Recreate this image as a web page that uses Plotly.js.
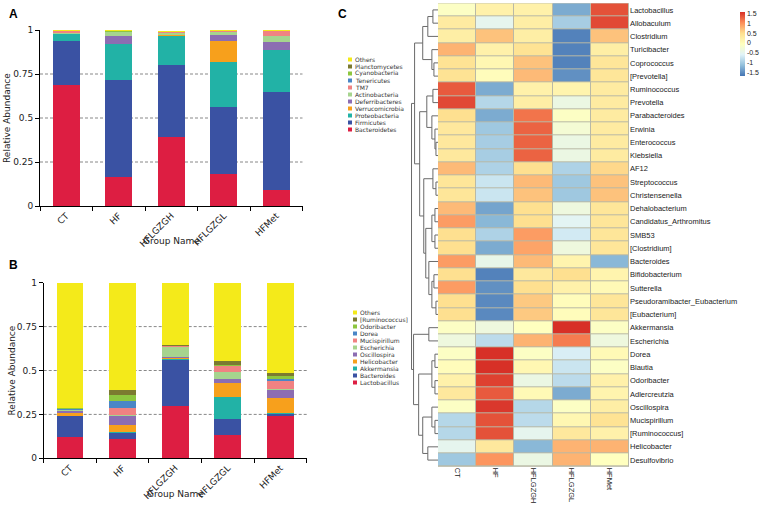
<!DOCTYPE html>
<html><head><meta charset="utf-8">
<script src="https://cdn.plot.ly/plotly-3.0.1.min.js"></script>
<style>html,body{margin:0;padding:0;background:#fff}#chart{width:767px;height:507px}</style>
</head><body><div id="chart"></div>
<script>
// ---------------- DATA ----------------
const groups = ['CT', 'HF', 'HFLGZGH', 'HFLGZGL', 'HFMet'];

// Panel A: phylum relative abundance (stack order bottom -> top)
const phylumNames = ['Bacteroidetes','Firmicutes','Proteobacteria','Verrucomicrobia','Deferribacteres','Actinobacteria','TM7','Tenericutes','Cyanobacteria','Planctomycetes','Others'];
const bacteroidetes   = [0.690, 0.165, 0.390, 0.180, 0.090];
const firmicutes      = [0.250, 0.550, 0.410, 0.385, 0.555];
const proteobacteria  = [0.035, 0.205, 0.167, 0.255, 0.240];
const verrucomicrobia = [0.003, 0.002, 0.004, 0.120, 0.002];
const deferribacteres = [0.002, 0.045, 0.002, 0.030, 0.045];
const actinobacteria  = [0.005, 0.020, 0.012, 0.020, 0.035];
const tm7             = [0.008, 0.003, 0.001, 0.003, 0.025];
const tenericutes     = [0.001, 0.001, 0.001, 0.001, 0.001];
const cyanobacteria   = [0.001, 0.002, 0.003, 0.002, 0.001];
const planctomycetes  = [0.001, 0.001, 0.001, 0.001, 0.001];
const othersA         = [0.004, 0.006, 0.006, 0.003, 0.005];

// Panel B: genus relative abundance (stack order bottom -> top)
const genusNames = ['Lactobacillus','Bacteroides','Akkermansia','Helicobacter','Oscillospira','Escherichia','Mucispirillum','Dorea','Odoribacter','[Ruminococcus]','Others'];
const lactobacillusB = [0.120, 0.108, 0.300, 0.130, 0.243];
const bacteroidesB   = [0.120, 0.038, 0.262, 0.095, 0.011];
const akkermansiaB   = [0.002, 0.002, 0.003, 0.125, 0.002];
const helicobacterB  = [0.015, 0.042, 0.008, 0.077, 0.090];
const oscillospiraB  = [0.013, 0.050, 0.002, 0.027, 0.045];
const escherichiaB   = [0.005, 0.008, 0.060, 0.040, 0.002];
const mucispirillumB = [0.002, 0.040, 0.002, 0.030, 0.050];
const doreaB         = [0.002, 0.038, 0.002, 0.003, 0.007];
const odoribacterB   = [0.005, 0.034, 0.003, 0.003, 0.020];
const ruminococcusB  = [0.004, 0.030, 0.005, 0.024, 0.018];
const othersB        = [0.712, 0.610, 0.353, 0.446, 0.512];

// Panel C: heatmap (rows top -> bottom), z-scores per group
const heatGenera = ['Lactobacillus','Allobaculum','Clostridium','Turicibacter','Coprococcus','[Prevotella]','Ruminococcus','Prevotella','Parabacteroides','Erwinia','Enterococcus','Klebsiella','AF12','Streptococcus','Christensenella','Dehalobacterium','Candidatus_Arthromitus','SMB53','[Clostridium]','Bacteroides','Bifidobacterium','Sutterella','Pseudoramibacter_Eubacterium','[Eubacterium]','Akkermansia','Escherichia','Dorea','Blautia','Odoribacter','Adlercreutzia','Oscillospira','Mucispirillum','[Ruminococcus]','Helicobacter','Desulfovibrio'];
const heatZ = [
  [-0.1, 0.2, 0.2, -1.3, 1.4],
  [0.3, -0.5, 0.25, -1.0, 1.45],
  [0.25, 0.7, 0.25, -1.6, 0.7],
  [0.8, 0.2, 0.45, -1.6, 0.25],
  [0.45, 0.1, 0.7, -1.6, 0.4],
  [0.45, 0.0, 0.75, -1.5, 0.4],
  [1.35, -1.3, 0.2, 0.15, 0.3],
  [1.45, -0.9, 0.25, -0.4, 0.3],
  [0.5, -1.3, 1.2, -0.1, 0.3],
  [0.35, -1.05, 1.3, -0.25, 0.3],
  [0.35, -1.0, 1.3, -0.4, 0.3],
  [0.35, -1.0, 1.3, -0.4, 0.3],
  [0.75, -0.95, 0.5, -0.95, 0.55],
  [0.4, -0.75, 0.75, -1.05, 0.7],
  [0.4, -0.75, 0.7, -1.05, 0.7],
  [0.75, -1.35, 0.5, -0.35, 0.4],
  [0.95, -1.2, 0.5, -0.55, 0.4],
  [0.5, -0.95, 0.95, -0.7, 0.4],
  [0.5, -1.3, 0.9, -0.35, 0.4],
  [0.95, -0.45, 0.75, 0.15, -1.2],
  [0.5, -1.6, 0.35, 0.5, 0.15],
  [0.95, -1.5, 0.5, 0.2, 0.05],
  [0.5, -1.55, 0.65, 0.0, 0.4],
  [0.5, -1.55, 0.65, 0.0, 0.4],
  [-0.1, -0.35, -0.05, 1.6, -0.1],
  [-0.35, -0.85, 0.8, 1.15, -0.35],
  [-0.1, 1.6, -0.1, -0.65, 0.05],
  [0.0, 1.6, 0.1, -0.75, -0.1],
  [0.2, 1.5, -0.4, -0.85, 0.2],
  [0.35, 1.35, 0.05, -1.3, 0.15],
  [-0.1, 1.55, -0.9, -0.1, 0.25],
  [-0.9, 1.4, -0.85, 0.1, 0.45],
  [-0.9, 1.4, -0.5, 0.35, 0.2],
  [-0.5, 0.35, -1.2, 0.8, 0.8],
  [-1.05, 1.0, -0.4, 0.8, -0.05]
];
const colorbarTicks = [-1.5, -1, -0.5, 0, 0.5, 1, 1.5];

// Row dendrogram: [left, right, mergeHeight]; leaves are row indices
const rowTree = [
  [
    [[[0, 1, 5], 2, 10], [3, [4, 5, 4], 6], 15],
    [[[6, 7, 5], [8, [9, [10, 11, 2], 3], 6], 11],
     [[12, [13, 14, 2], 5], [[[15, 16, 3], [17, 18, 3], 6], [19, [[20, 21, 4], [22, 23, 2], 6], 9], 12], 14], 18],
    23],
  [[24, 25, 9],
   [[[26, 27, 3], [28, 29, 3], 6], [[30, [31, 32, 3], 6], [33, 34, 10], 15], 19],
   24],
  26];

// ---------------- STYLE ----------------
const stackColors = ['#DD1E42','#3A52A3','#22B2A6','#F7A01C','#8C6DB2','#A6D48E','#F08282','#4A86C6','#8DC63F','#7B7A30','#F4EA1A'];
const W = 767, H = 507;
const px = v => v / W, py = v => 1 - v / H;
const fontBar = 'DejaVu Sans', fontHeat = 'Liberation Sans';

const seriesA = [bacteroidetes, firmicutes, proteobacteria, verrucomicrobia, deferribacteres, actinobacteria, tm7, tenericutes, cyanobacteria, planctomycetes, othersA];
const seriesB = [lactobacillusB, bacteroidesB, akkermansiaB, helicobacterB, oscillospiraB, escherichiaB, mucispirillumB, doreaB, odoribacterB, ruminococcusB, othersB];

const traces = [];
seriesA.forEach((vals, i) => traces.push({
  type: 'bar', x: groups, y: vals, name: phylumNames[i], xaxis: 'x', yaxis: 'y',
  marker: {color: stackColors[i], line: {width: 0}}, showlegend: false, hoverinfo: 'name+y'
}));
seriesB.forEach((vals, i) => traces.push({
  type: 'bar', x: groups, y: vals, name: genusNames[i], xaxis: 'x2', yaxis: 'y2',
  marker: {color: stackColors[i], line: {width: 0}}, showlegend: false, hoverinfo: 'name+y'
}));

traces.push({
  type: 'heatmap', z: heatZ,
  x: groups.map((g, i) => i), y: heatGenera.map((g, i) => i),
  xaxis: 'x3', yaxis: 'y3', xgap: 1, ygap: 1,
  zmin: -1.7, zmax: 1.6,
  colorscale: [[0, '#4575B4'], [1/6, '#91BFDB'], [2/6, '#E0F3F8'], [3/6, '#FFFFBF'], [4/6, '#FEE090'], [5/6, '#FC8D59'], [1, '#D73027']],
  colorbar: {
    x: px(740), xanchor: 'left', xpad: 0, ypad: 0,
    y: py(12), yanchor: 'top', lenmode: 'pixels', len: 64, thickness: 5,
    outlinewidth: 0, tickvals: colorbarTicks, ticktext: colorbarTicks.map(String),
    ticks: '', tickfont: {family: fontHeat, size: 7, color: '#222'}
  }
});

// Dendrogram built from the tree
const dX = [], dY = [];
function walk(node) {
  if (typeof node === 'number') return {y: node, h: 0};
  const a = walk(node[0]), b = walk(node[1]), h = node[2];
  dX.push(a.h, h, h, b.h, null);
  dY.push(a.y, a.y, b.y, b.y, null);
  return {y: (a.y + b.y) / 2, h: h};
}
walk(rowTree);
traces.push({type: 'scatter', mode: 'lines', x: dX, y: dY, xaxis: 'x4', yaxis: 'y3',
  line: {color: '#6a6a6a', width: 1}, hoverinfo: 'skip', showlegend: false});

const barX = (d0, d1, ya) => ({
  domain: [px(d0), px(d1)], anchor: ya, type: 'category',
  showline: true, linecolor: '#000', linewidth: 1, ticks: 'outside', tickson: 'boundaries',
  ticklen: 4, tickcolor: '#000', tickangle: -45, showgrid: false, zeroline: false,
  tickfont: {family: fontBar, size: 9, color: '#222'}
});
const barY = (top, bottom, xa) => ({
  domain: [py(bottom), py(top)], anchor: xa, range: [0, 1],
  tickvals: [0, 0.25, 0.5, 0.75, 1], ticktext: ['0', '0.25', '0.5', '0.75', '1'],
  showline: true, linecolor: '#000', linewidth: 1, ticks: 'outside', ticklen: 4, tickcolor: '#000',
  showgrid: false, zeroline: false, tickfont: {family: fontBar, size: 9, color: '#222'}
});

const shapes = [];
const annotations = [];
[0.25, 0.5, 0.75].forEach(v => {
  shapes.push({type: 'line', xref: 'x domain', yref: 'y', x0: 0, x1: 1, y0: v, y1: v, layer: 'below', line: {color: '#888', width: 1, dash: '3px,2px'}});
  shapes.push({type: 'line', xref: 'x2 domain', yref: 'y2', x0: 0, x1: 1, y0: v, y1: v, layer: 'below', line: {color: '#888', width: 1, dash: '3px,2px'}});
});
// heatmap cell border background
shapes.push({type: 'rect', xref: 'x3', yref: 'y3', x0: -0.5, x1: groups.length - 0.5, y0: -0.5, y1: heatGenera.length - 0.5,
  fillcolor: '#b9b9a6', line: {color: '#b9b9a6', width: 1}, layer: 'below'});

// manual legends
function addLegend(names, x0, top) {
  for (let k = 0; k < names.length; k++) {
    const i = names.length - 1 - k;
    const yc = top + k * 7;
    shapes.push({type: 'rect', xref: 'paper', yref: 'paper', x0: px(x0), x1: px(x0 + 4), y0: py(yc + 2), y1: py(yc - 2),
      fillcolor: stackColors[i], line: {width: 0}});
    annotations.push({xref: 'paper', yref: 'paper', x: px(x0 + 6), y: py(yc), xanchor: 'left', yanchor: 'middle',
      text: names[i], showarrow: false, borderpad: 0, font: {family: fontBar, size: 6, color: '#333'}});
  }
}
addLegend(phylumNames, 348, 59.5);
addLegend(genusNames, 353, 312.5);

const txt = (text, x, y, opts) => Object.assign({xref: 'paper', yref: 'paper', x: px(x), y: py(y), text: text, showarrow: false,
  xanchor: 'center', yanchor: 'middle', font: {family: fontBar, size: 9, color: '#222'}}, opts || {});
annotations.push(txt('Relative Abundance', 7, 118, {textangle: -90}));
annotations.push(txt('Relative Abundance', 11, 370.5, {textangle: -90}));
annotations.push(txt('Group Name', 171, 241));
annotations.push(txt('Group Name', 175, 494));
annotations.push(txt('<b>A</b>', 13, 14, {font: {family: fontHeat, size: 12, color: '#000'}}));
annotations.push(txt('<b>B</b>', 13, 265, {font: {family: fontHeat, size: 12, color: '#000'}}));
annotations.push(txt('<b>C</b>', 342, 14, {font: {family: fontHeat, size: 12, color: '#000'}}));

const layout = {
  width: W, height: H, autosize: false, margin: {l: 0, r: 0, t: 0, b: 0, pad: 0},
  paper_bgcolor: '#fff', plot_bgcolor: '#fff', barmode: 'stack', bargap: 0.49, showlegend: false,
  xaxis: barX(40, 302.5, 'y'),
  yaxis: barY(30, 206, 'x'),
  xaxis2: barX(43.7, 306.7, 'y2'),
  yaxis2: barY(282.7, 458.3, 'x2'),
  xaxis3: {domain: [px(438), px(629)], anchor: 'y3', range: [-0.5, groups.length - 0.5],
    tickvals: groups.map((g, i) => i), ticktext: groups, tickangle: 90, ticks: '',
    showline: false, showgrid: false, zeroline: false, tickfont: {family: fontHeat, size: 7.5, color: '#222'}},
  yaxis3: {domain: [py(466.7), py(3.3)], anchor: 'x3', side: 'right', range: [heatGenera.length - 0.5, -0.5],
    tickvals: heatGenera.map((g, i) => i), ticktext: heatGenera, ticks: '',
    showline: false, showgrid: false, zeroline: false, tickfont: {family: fontHeat, size: 7.5, color: '#222'}},
  xaxis4: {domain: [px(410), px(438)], anchor: 'y3', range: [27.5, 0], visible: false},
  shapes: shapes, annotations: annotations
};

Plotly.newPlot('chart', traces, layout, {staticPlot: true, displayModeBar: false});
</script></body></html>
